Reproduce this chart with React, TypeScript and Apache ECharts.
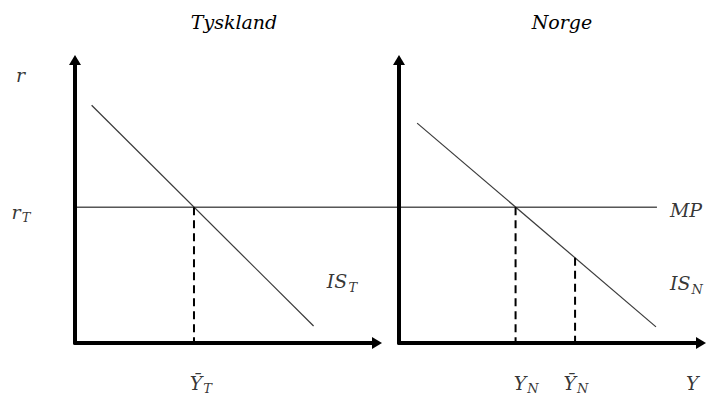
import React, { useEffect, useRef } from "react";
import * as echarts from "echarts";

// ---- data (model units: each panel 0..10 on each axis) ----
const panelTitles = ["Tyskland", "Norge"];
const isTyskland: number[][] = [[0.55, 8.4], [7.9, 0.6]];
const isNorge: number[][] = [[0.6, 7.77], [8.51, 0.57]];
const rT = 4.8; // interest rate level (MP)
const yBarT = 3.94; // potential output Tyskland
const yN = 3.86; // output Norge at r_T
const yBarN = 5.83; // potential output Norge
const isNorgeAtYBarN = 3.01;
// MP spans both panels: measured on a shared axis starting at Tyskland's origin
const mpSpan = [0, 19.27];

const FONT = "'DejaVu Serif', serif";

function lbl(main: string, sub?: string) {
  return sub ? `{m|${main}}{s|${sub}}` : `{m|${main}}`;
}

export default function App() {
  const ref = useRef<HTMLDivElement>(null);
  useEffect(() => {
    if (!ref.current) return;
    const chart = echarts.init(ref.current, undefined, { renderer: "svg" });
    const axisLine = {
      show: true,
      symbol: ["none", "triangle"],
      symbolSize: [12, 10],
      lineStyle: { color: "#000", width: 4 },
    };
    const axisCommon = {
      type: "value" as const,
      min: 0,
      max: 10,
      axisLine,
      axisTick: { show: false },
      axisLabel: { show: false },
      splitLine: { show: false },
    };
    const hiddenAxis = {
      type: "value" as const,
      min: 0,
      show: false,
      splitLine: { show: false },
    };
    const rich = {
      m: { fontFamily: FONT, fontStyle: "italic", fontSize: 19, color: "#000" },
      s: {
        fontFamily: FONT,
        fontStyle: "italic",
        fontSize: 13,
        color: "#000",
        padding: [12, 0, 0, 1],
      },
    };
    const labelSeries = (idx: number, items: { pos: number[]; text: string }[]) => ({
      type: "scatter" as const,
      xAxisIndex: idx,
      yAxisIndex: idx,
      clip: false,
      silent: true,
      symbolSize: 1,
      itemStyle: { color: "rgba(0,0,0,0)" },
      label: {
        show: true,
        position: "inside" as const,
        align: "left",
        verticalAlign: "middle",
        formatter: (p: any) => p.data.text,
        rich,
      },
      data: items.map((it) => ({ value: it.pos, text: it.text })),
    });
    const titleStyle = (text: string) => ({
      text,
      font: `italic 19px ${FONT}`,
      align: "center",
      verticalAlign: "middle",
      fill: "#000",
    });
    const option: any = {
      animation: false,
      grid: [
        { left: 75, top: 60, width: 302, height: 283 },
        { left: 399, top: 60, width: 302, height: 283 },
        { left: 75, top: 60, width: 604, height: 283 },
      ],
      xAxis: [
        { ...axisCommon, gridIndex: 0 },
        { ...axisCommon, gridIndex: 1 },
        { ...hiddenAxis, gridIndex: 2, max: 20 },
      ],
      yAxis: [
        { ...axisCommon, gridIndex: 0 },
        { ...axisCommon, gridIndex: 1 },
        { ...hiddenAxis, gridIndex: 2, max: 10 },
      ],
      graphic: [
        { type: "text", x: 234, y: 22, style: titleStyle(panelTitles[0]) },
        { type: "text", x: 562, y: 22, style: titleStyle(panelTitles[1]) },
      ],
      series: [
        // MP line across both panels
        {
          type: "line",
          xAxisIndex: 2,
          yAxisIndex: 2,
          showSymbol: false,
          lineStyle: { color: "#000", width: 1 },
          data: [[mpSpan[0], rT], [mpSpan[1], rT]],
        },
        // IS curves
        {
          type: "line",
          xAxisIndex: 0,
          yAxisIndex: 0,
          showSymbol: false,
          lineStyle: { color: "#3a3a3a", width: 1.2 },
          data: isTyskland,
        },
        {
          type: "line",
          xAxisIndex: 1,
          yAxisIndex: 1,
          showSymbol: false,
          lineStyle: { color: "#3a3a3a", width: 1.2 },
          data: isNorge,
        },
        // dashed drop lines
        {
          type: "line",
          xAxisIndex: 0,
          yAxisIndex: 0,
          showSymbol: false,
          lineStyle: { color: "#000", width: 2, type: [8, 5] },
          data: [[yBarT, rT], [yBarT, 0]],
        },
        {
          type: "line",
          xAxisIndex: 1,
          yAxisIndex: 1,
          showSymbol: false,
          lineStyle: { color: "#000", width: 2, type: [8, 5] },
          data: [[yN, rT], [yN, 0]],
        },
        {
          type: "line",
          xAxisIndex: 1,
          yAxisIndex: 1,
          showSymbol: false,
          lineStyle: { color: "#000", width: 2, type: [8, 5] },
          data: [[yBarN, isNorgeAtYBarN], [yBarN, 0]],
        },
        labelSeries(0, [
          { pos: [-1.95, 9.47], text: lbl("r") },
          { pos: [-2.1, 4.63], text: lbl("r", "T") },
          { pos: [8.34, 2.19], text: lbl("IS", "T") },
          { pos: [3.8, -1.4], text: lbl("Ȳ", "T") },
        ]),
        labelSeries(1, [
          { pos: [8.97, 4.7], text: lbl("MP") },
          { pos: [8.97, 2.12], text: lbl("IS", "N") },
          { pos: [3.8, -1.4], text: lbl("Y", "N") },
          { pos: [5.45, -1.4], text: lbl("Ȳ", "N") },
          { pos: [9.5, -1.4], text: lbl("Y") },
        ]),
      ],
    };
    chart.setOption(option);
    return () => chart.dispose();
  }, []);
  return (
    <div
      ref={ref}
      style={{ position: "fixed", left: 0, top: 0, width: 706, height: 397, background: "#fff" }}
    />
  );
}
